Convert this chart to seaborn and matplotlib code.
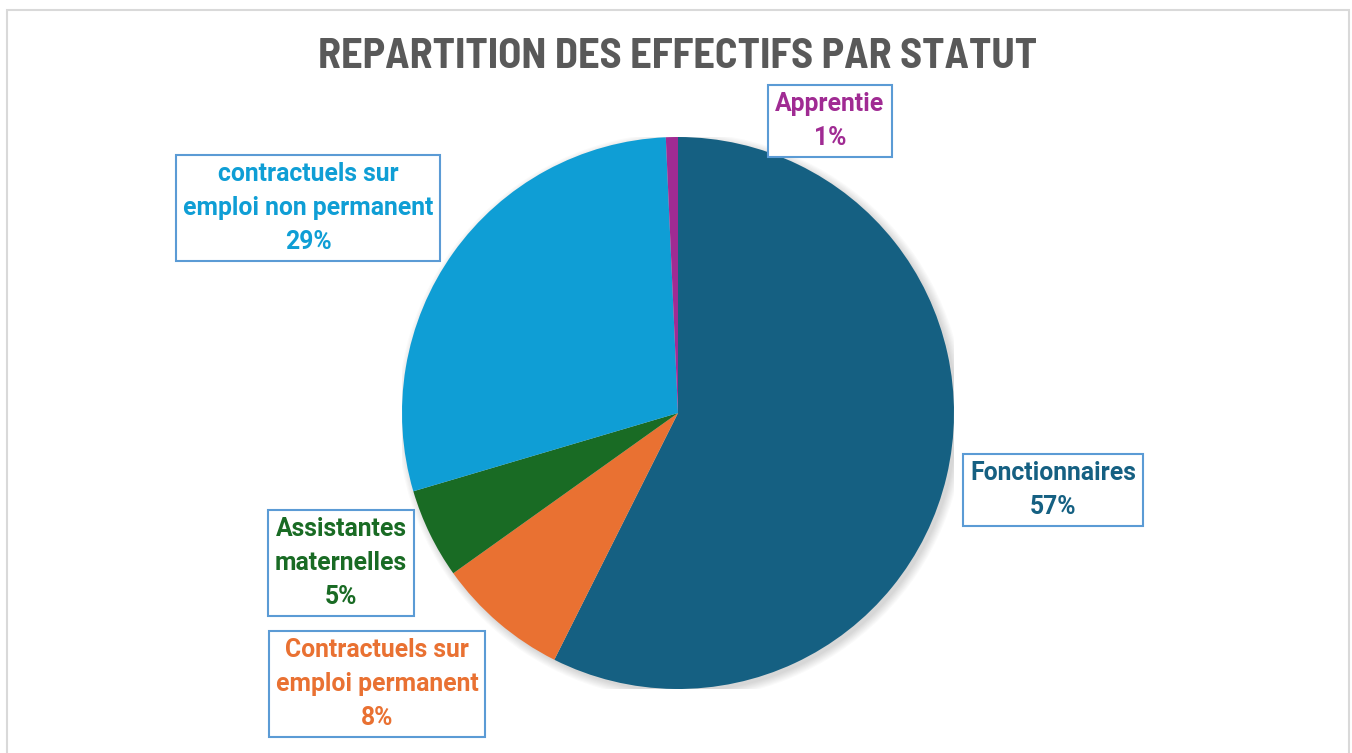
import seaborn as sns
import matplotlib.pyplot as plt
from matplotlib import font_manager as fm
from matplotlib import patheffects as pe
from matplotlib.patches import Rectangle, Circle

statuts = ["Fonctionnaires", "Contractuels sur\nemploi permanent", "Assistantes\nmaternelles",
           "contractuels sur\nemploi non permanent", "Apprentie"]
effectifs = [163, 22, 15, 82, 2]
couleurs = ["#156082", "#E97132", "#196B24", "#0F9ED5", "#A02B93"]
# label box centres in pixels (x, y from top)
label_pos = [(1053, 490), (377, 684), (341, 563), (308, 208), (830, 121)]

sns.set_theme(style="white")
plt.rcParams['font.family'] = ['Roboto', 'DejaVu Sans']


def pref(f):
    n = f.name + " " + f.fname
    if "SemiCondensed" in n or "Semi Condensed" in n or "Narrow" in n:
        return 0
    if "Extra" in n or "Ultra" in n:
        return 2
    return 1


# narrow bold font for the title if one is installed
narrow = [f for f in fm.fontManager.ttflist
          if ("Narrow" in f.name or "Condensed" in f.name) and f.style == "normal"]
narrow_bold = sorted([f for f in narrow if f.weight in ("bold", 700)],
                     key=lambda f: (pref(f), f.fname))
title_effects = None
if narrow_bold:
    title_fp = fm.FontProperties(fname=narrow_bold[0].fname, size=30.5)
elif narrow:
    title_fp = fm.FontProperties(fname=sorted(narrow, key=lambda f: (pref(f), f.fname))[0].fname, size=30.5)
    title_effects = [pe.withStroke(linewidth=1.6, foreground="#595959")]
else:
    title_fp = fm.FontProperties(family="Roboto", weight="bold", size=26)

W, H = 1352, 753
fig = plt.figure(figsize=(W / 100, H / 100), dpi=100)
fig.patch.set_facecolor("white")

# outer chart border
fig.patches.append(Rectangle((7 / W, -0.05), (1349 - 7) / W, 1 - 10 / H + 0.05,
                             transform=fig.transFigure, fill=False,
                             edgecolor="#d9d9d9", linewidth=1.5))

cx, cy, r = 678, 413, 276
ax = fig.add_axes([(cx - r) / W, (H - cy - r) / H, 2 * r / W, 2 * r / H])

# soft shadow
for i in range(8):
    ax.add_patch(Circle((0.012, -0.012), 1.0 + 0.004 * i, color="black",
                        alpha=0.018, zorder=0, linewidth=0))

ax.pie(effectifs, colors=couleurs, startangle=90, counterclock=False,
       radius=1.0, wedgeprops=dict(linewidth=0, zorder=2))
ax.set_xlim(-1, 1)
ax.set_ylim(-1, 1)
ax.set_aspect("equal")
ax.axis("off")

total = sum(effectifs)
for nom, val, col, (px, py) in zip(statuts, effectifs, couleurs, label_pos):
    pct = round(100 * val / total)
    fig.text(px / W, 1 - py / H, f"{nom}\n{pct}%", ha="center", va="center",
             fontsize=17.8, fontweight="bold", color=col, linespacing=1.55,
             bbox=dict(boxstyle="square,pad=0.28", facecolor="white",
                       edgecolor="#5B9BD5", linewidth=1.5))

fig.text(678 / W, 1 - 57 / H, "REPARTITION DES EFFECTIFS PAR STATUT", ha="center",
         va="center", fontproperties=title_fp, color="#595959",
         path_effects=title_effects)

fig.savefig("out.png", dpi=100)
